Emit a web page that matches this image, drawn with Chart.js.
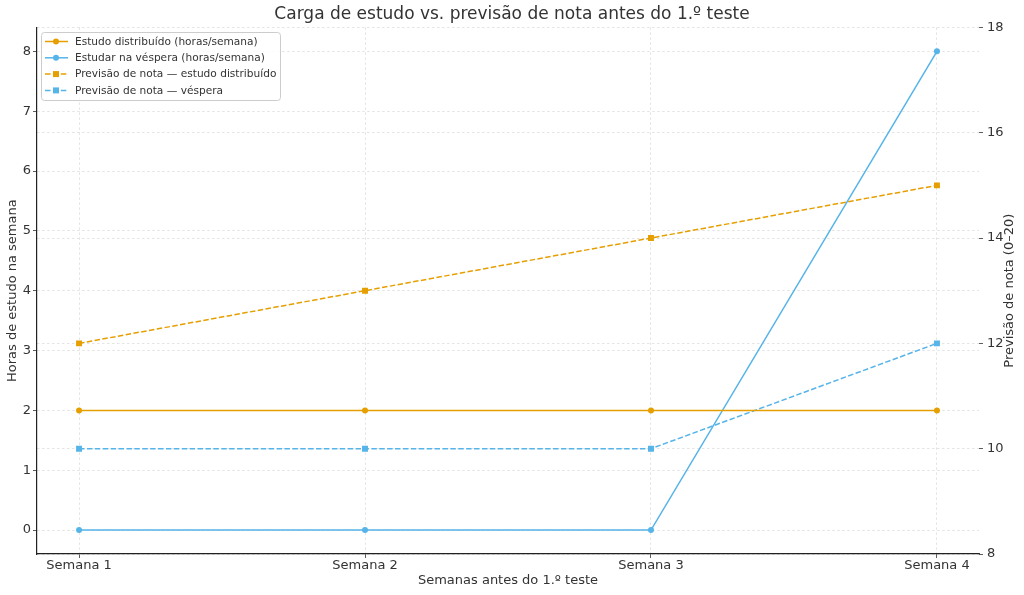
<!DOCTYPE html>
<html>
<head>
<meta charset="utf-8">
<script src="https://cdn.jsdelivr.net/npm/chart.js@4"></script>
<style>
  html, body { margin: 0; padding: 0; background: #fff; }
  #wrap { width: 1024px; height: 595px; }
</style>
</head>
<body>
<div id="wrap"><canvas id="chart" width="1024" height="595"></canvas></div>
<script>
const weeks = ['Semana 1', 'Semana 2', 'Semana 3', 'Semana 4'];
const hoursSpaced = [2, 2, 2, 2];
const hoursCram = [0, 0, 0, 8];
const gradeSpaced = [12, 13, 14, 15];
const gradeCram = [10, 10, 10, 12];
const hourTicks = [0, 1, 2, 3, 4, 5, 6, 7, 8];

const ORANGE = '#E69F00';
const BLUE = '#56B4E9';
const FONT = "'DejaVu Sans', sans-serif";
const DASH = [5.5, 2.4];

const toPoints = (values) => values.map((y, x) => ({ x, y }));

const makeSet = (label, values, color, axis, dashed) => ({
    label,
    data: toPoints(values),
    yAxisID: axis,
    borderColor: color,
    backgroundColor: color,
    borderWidth: 1.5,
    borderDash: dashed ? DASH : [],
    pointStyle: dashed ? 'rect' : 'circle',
    pointRadius: dashed ? 4.2 : 3,
    pointBorderWidth: 0,
    tension: 0,
});

// legend drawn inside the plot like the original, with line + marker samples
const boxLegend = {
    id: 'boxLegend',
    afterDraw(chart) {
        const { ctx } = chart;
        const x = 41, y = 32, w = 239, h = 68;
        ctx.save();
        ctx.fillStyle = 'rgba(255,255,255,0.85)';
        ctx.strokeStyle = '#cccccc';
        ctx.lineWidth = 1;
        ctx.beginPath();
        ctx.roundRect(x + 0.5, y + 0.5, w, h, 3);
        ctx.fill();
        ctx.stroke();

        ctx.font = `10.6px ${FONT}`;
        ctx.textBaseline = 'middle';
        chart.data.datasets.forEach((ds, i) => {
            const cy = y + 9.5 + i * 16.3;
            ctx.strokeStyle = ds.borderColor;
            ctx.fillStyle = ds.borderColor;
            ctx.lineWidth = 1.5;
            ctx.setLineDash(ds.borderDash);
            ctx.beginPath();
            ctx.moveTo(45, cy);
            ctx.lineTo(68, cy);
            ctx.stroke();
            ctx.setLineDash([]);
            if (ds.pointStyle === 'rect') {
                ctx.fillRect(53, cy - 3, 6, 6);
            } else {
                ctx.beginPath();
                ctx.arc(56, cy, 3, 0, Math.PI * 2);
                ctx.fill();
            }
            ctx.fillStyle = '#333333';
            ctx.fillText(ds.label, 75, cy + 0.5);
        });
        ctx.restore();
    },
};

// right-hand axis title reads bottom to top, as in the source
const rightTitle = {
    id: 'rightTitle',
    afterDraw(chart) {
        const { ctx, chartArea } = chart;
        ctx.save();
        ctx.translate(1010, (chartArea.top + chartArea.bottom) / 2);
        ctx.rotate(-Math.PI / 2);
        ctx.font = `13px ${FONT}`;
        ctx.fillStyle = '#333333';
        ctx.textAlign = 'center';
        ctx.textBaseline = 'middle';
        ctx.fillText('Previsão de nota (0–20)', 0, 0);
        ctx.restore();
    },
};

const gridStyle = { color: '#dddddd', lineWidth: 0.8, tickColor: '#333333', tickLength: 4 };
const tickFont = { family: FONT, size: 13 };

new Chart(document.getElementById('chart'), {
    type: 'line',
    data: {
        datasets: [
            makeSet('Estudo distribuído (horas/semana)', hoursSpaced, ORANGE, 'yHours', false),
            makeSet('Estudar na véspera (horas/semana)', hoursCram, BLUE, 'yHours', false),
            makeSet('Previsão de nota — estudo distribuído', gradeSpaced, ORANGE, 'yGrade', true),
            makeSet('Previsão de nota — véspera', gradeCram, BLUE, 'yGrade', true),
        ],
    },
    options: {
        responsive: false,
        animation: false,
        layout: { padding: 0 },
        plugins: {
            legend: { display: false },
            tooltip: { enabled: false },
            title: {
                display: true,
                text: 'Carga de estudo vs. previsão de nota antes do 1.º teste',
                color: '#333333',
                font: { family: FONT, size: 17, weight: 'normal' },
                padding: { top: 4, bottom: 3 },
            },
        },
        scales: {
            x: {
                type: 'linear',
                min: -0.147,
                max: 3.147,
                afterFit: (scale) => { scale.height = 41; },
                afterBuildTicks: (scale) => {
                    scale.ticks = weeks.map((_, i) => ({ value: i }));
                },
                ticks: {
                    color: '#333333',
                    font: tickFont,
                    padding: 0,
                    maxRotation: 0,
                    callback: (value) => weeks[value] ?? '',
                },
                grid: gridStyle,
                border: { color: '#222222', width: 1.2, dash: [2.5, 2.5] },
                title: {
                    display: true,
                    text: 'Semanas antes do 1.º teste',
                    color: '#333333',
                    font: { family: FONT, size: 13 },
                    padding: { top: 0, bottom: 7 },
                },
            },
            yHours: {
                position: 'left',
                min: -0.4,
                max: 8.4,
                afterFit: (scale) => { scale.width = 37; },
                afterBuildTicks: (scale) => {
                    scale.ticks = hourTicks.map((value) => ({ value }));
                },
                ticks: { color: '#333333', font: tickFont, padding: 2 },
                grid: gridStyle,
                border: { color: '#222222', width: 1.2, dash: [2.5, 2.5] },
                title: {
                    display: true,
                    text: 'Horas de estudo na semana',
                    color: '#333333',
                    font: { family: FONT, size: 13 },
                    padding: { top: 5, bottom: 0 },
                },
            },
            yGrade: {
                position: 'right',
                min: 8,
                max: 18,
                afterFit: (scale) => { scale.width = 45; },
                ticks: { stepSize: 2, color: '#333333', font: tickFont, padding: 4 },
                grid: gridStyle,
                border: { display: false, dash: [2.5, 2.5] },
            },
        },
    },
    plugins: [boxLegend, rightTitle],
});
</script>
</body>
</html>
